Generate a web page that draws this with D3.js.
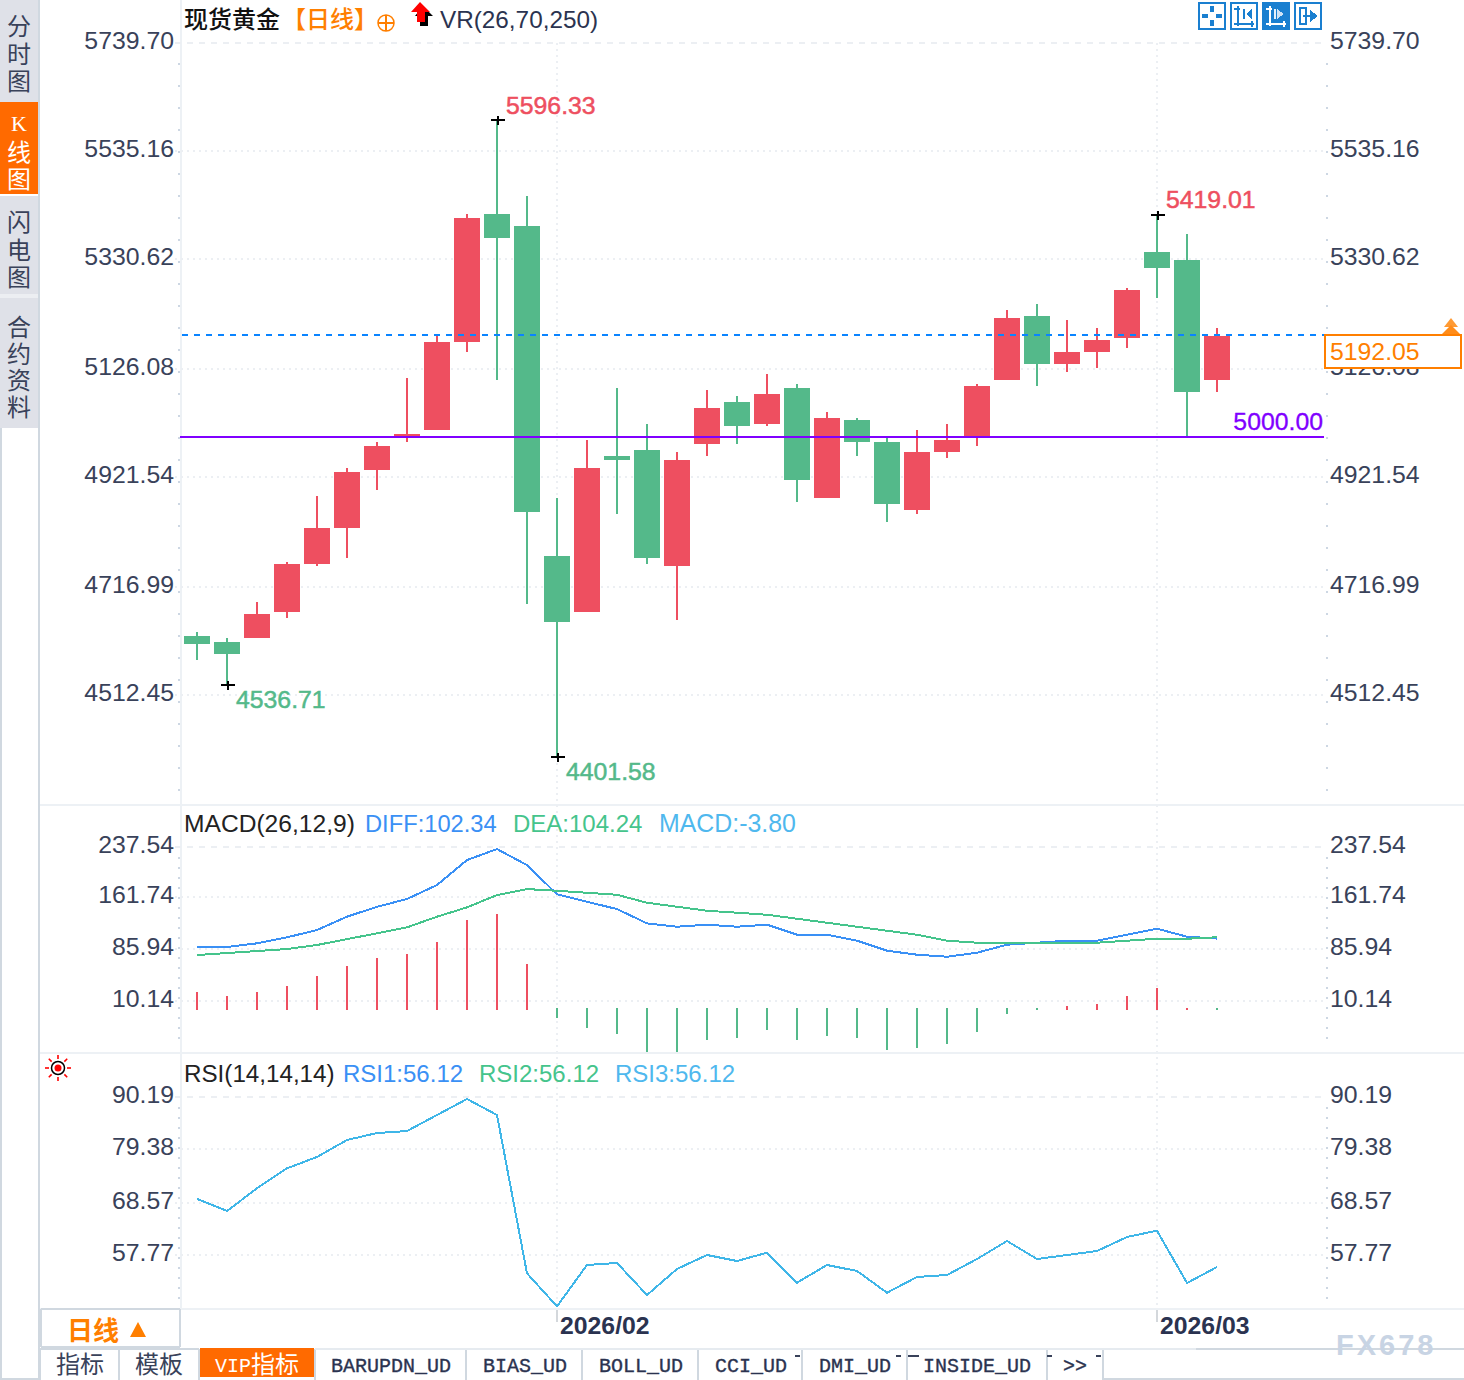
<!DOCTYPE html>
<html><head><meta charset="utf-8">
<script src="https://cdn.jsdelivr.net/npm/d3@7/dist/d3.min.js"></script>
<style>
html,body{margin:0;padding:0;background:#fff;overflow:hidden}
svg{display:block}
text{font-family:"Liberation Sans",Arial,sans-serif}
.cjk{font-family:"Noto Sans CJK SC",sans-serif}
.mono{font-family:"Liberation Mono",monospace}
.serif{font-family:"Liberation Serif",serif}
</style></head><body>
<svg id="c" width="1464" height="1380"></svg>
<script>
const opens =[4628.6,4617.3,4624.8,4673.6,4763.6,4831.1,4939.9,5000,5014.9,5180,5419.8,5397.5,4778.6,4673.6,4966.2,4977.4,4759.9,4988.7,5067.4,5026.2,5093.7,4887.4,5033.7,4992.4,4864.9,4973.7,5000,5108.7,5228.7,5138.7,5161.2,5187.5,5348.8,5333.8,5108.7];
const closes=[4613.6,4594.8,4669.8,4763.6,4831.1,4936.2,4984.9,5007.4,5180,5412.5,5375,4861.1,4654.8,4943.7,4958.7,4774.9,4958.7,5056.2,5022.4,5082.4,4921.1,5037.4,4992.4,4876.1,4973.7,4996.2,5097.4,5225,5138.7,5161.2,5183.7,5277.5,5318.8,5086.2,5192.05];
const highs =[4636.1,4624.8,4692.3,4767.3,4891.1,4943.7,4992.4,5112.5,5191.2,5419.8,5596.33,5453.8,4887.4,4996.2,5093.7,5026.2,4973.7,5089.9,5078.7,5120,5101.2,5048.7,5037.4,5001.8,5014.9,5026.2,5101.2,5240,5251.2,5221.2,5206.2,5281.2,5419.01,5382.5,5206.2];
const lows  =[4583.6,4536.71,4624.8,4662.3,4759.9,4774.9,4902.4,4992.4,5014.9,5161.2,5108.7,4688.6,4401.58,4673.6,4857.4,4763.6,4658.6,4966.2,4988.7,5022.4,4879.9,4887.4,4966.2,4842.4,4857.4,4962.4,4984.9,5108.7,5097.4,5123.7,5131.2,5168.7,5262.5,5001.8,5086.2];
const diff =[89.9,89.9,95.3,104.2,114.9,134.6,149.3,160.7,181.4,218.3,234.5,210.9,167.7,156.7,145.9,124.8,119.8,122.8,119.8,122.8,108,108,99.2,84.4,78.5,75.5,81.4,93.3,96.2,99.2,99.2,108,116.9,105.1,102.34];
const dea  =[78,81,83.9,86.9,92.8,101.6,110,118.9,134.6,148.4,166.6,175.4,172.9,170,167,155.2,149.3,143.4,140.5,137.5,131.6,125.7,119.8,113.9,108,99.2,96.2,96.2,96.2,96.2,96.2,99.2,102.1,102.1,104.24];
const macdBars=[23.6,17.7,23.6,32.5,47.2,62,73.8,79.7,97.4,129.9,138.8,65,-14.8,-29.5,-38.4,-65,-65,-47.2,-44.3,-32.5,-47.2,-41.3,-44.3,-62,-59,-53.1,-35.4,-8.9,-3,3,5.9,17.7,29.5,0.5,-3.8];
const rsi =[69.3,66.8,71.46,75.56,77.88,81.37,82.8,83.21,86.5,89.78,86.5,54.01,47.24,55.72,56.13,49.56,54.9,57.77,56.54,58.24,52.09,55.72,54.49,50.03,53.26,53.67,56.95,60.64,56.95,57.77,58.59,61.46,62.76,52.02,55.31];
const priceTicks=[5739.70,5535.16,5330.62,5126.08,4921.54,4716.99,4512.45];
const macdTicks=[237.54,161.74,85.94,10.14];
const rsiTicks=[90.19,79.38,68.57,57.77];
const monthIdx=[12,32];
const monthLabels=["2026/02","2026/03"];
const sideTabs=["分时图","K线图","闪电图","合约资料"];
const bottomTabs=["指标","模板","VIP指标","BARUPDN_UD","BIAS_UD","BOLL_UD","CCI_UD","DMI_UD","INSIDE_UD",">>"];

const UP="#ee4f60",DOWN="#54b98a",INK="#39425a",GRID="#eceff3",RULE="#edf1f5",EDGE="#d0d8e0",ORANGE="#ff7f00",TAB="#ff6a00",BLUE="#3a90f5",GREEN="#45c48c",SKY="#3fb6e8",PURPLE="#8000ff";
const L=180,R=1324;
const svg=d3.select("#c");
const x=d3.scaleLinear().domain([0,34]).range([197,1217]);
const yP=d3.scaleLinear().domain([5596.33,4401.58]).range([120,757]);
const yPT=d3.scaleLinear().domain(priceTicks).range([43,151,259,369,477,587,695]);
const yM=d3.scaleLinear().domain([10.14,237.54]).range([1001,847]);
const yMT=d3.scaleLinear().domain(macdTicks).range([847,897,949,1001]);
const yR=d3.scaleLinear().domain([57.77,90.19]).range([1255,1097]);
const yRT=d3.scaleLinear().domain(rsiTicks).range([1097,1149,1203,1255]);
const idx=d3.range(opens.length);
const txt=(s,px,py,o={})=>svg.append("text").attr("x",px).attr("y",py).text(s)
  .attr("font-size",o.size||25).attr("fill",o.fill||INK).attr("text-anchor",o.anchor||"start")
  .attr("font-weight",o.weight||null).attr("class",o.cls||null).attr("letter-spacing",o.ls||null)
  .attr("stroke",o.heavy?(o.fill||INK):null).attr("stroke-width",o.heavy||null);

const rule=(x1,y1,x2,y2,c,w=2)=>svg.append("line").attr("x1",x1).attr("y1",y1).attr("x2",x2).attr("y2",y2).attr("stroke",c).attr("stroke-width",w).attr("shape-rendering","crispEdges");
rule(181,0,181,1308,RULE);
[805,1053,1309].forEach(v=>rule(40,v,1464,v,RULE));

function axes(scale,ticks){
  const g=svg.append("g").attr("shape-rendering","crispEdges");
  ticks.forEach((t,i)=>g.append("line").attr("x1",175).attr("x2",R).attr("y1",scale(t)).attr("y2",scale(t))
    .attr("stroke",GRID).attr("stroke-width",2).attr("stroke-dasharray",i===0?"6 6":"2 4"));
  const fmt=d=>d.toFixed(2);
  const left=svg.append("g").attr("transform","translate(174,0)").call(d3.axisLeft(scale).tickValues(ticks).tickFormat(fmt).tickSize(0).tickPadding(0));
  const right=svg.append("g").attr("transform","translate(1330,0)").call(d3.axisRight(scale).tickValues(ticks).tickFormat(fmt).tickSize(0).tickPadding(0));
  [left,right].forEach(a=>{a.select(".domain").remove();
    a.selectAll("text").attr("font-size",24.8).attr("font-family",'"Liberation Sans",Arial,sans-serif').attr("fill",INK).attr("dy",".24em");});
}
axes(yPT,priceTicks);axes(yMT,macdTicks);axes(yRT,rsiTicks);

monthIdx.forEach(i=>{
  rule(x(i),43,x(i),1308,GRID,2).attr("stroke-dasharray","2 4");
  rule(x(i),1310,x(i),1322,"#d4d8dc",2);
});
[[63,790,22],[857,1045,10],[1107,1300,10]].forEach(([a,b,s])=>{
  d3.range(a,b,s).forEach(v=>{[178,1326].forEach(px=>svg.append("rect").attr("x",px).attr("y",v).attr("width",2).attr("height",2).attr("fill","#cdd7e3"));});
});

const cg=svg.append("g").attr("shape-rendering","crispEdges");
idx.forEach(i=>{
  const c=closes[i]>=opens[i]?UP:DOWN;
  cg.append("rect").attr("x",x(i)-1).attr("width",2).attr("y",yP(highs[i])).attr("height",yP(lows[i])-yP(highs[i])).attr("fill",c);
  const t=yP(Math.max(opens[i],closes[i])),b=yP(Math.min(opens[i],closes[i]));
  cg.append("rect").attr("x",x(i)-13).attr("width",26).attr("y",t).attr("height",b-t).attr("fill",c);
});
rule(L+2,yP(5192.05)-1,R,yP(5192.05)-1,"#0a84ff",2).attr("stroke-dasharray","6 6");
rule(L,yP(5000)-1,R,yP(5000)-1,PURPLE,2);
txt("5000.00",R-1,430,{anchor:"end",fill:PURPLE,size:24.8,heavy:0.3});
const ext=[[10,5596.33,"5596.33",UP,506,114],[32,5419.01,"5419.01",UP,1166,208],[1,4536.71,"4536.71",DOWN,236,708],[12,4401.58,"4401.58",DOWN,566,780]];
ext.forEach(([i,v,s,c,tx,ty])=>{
  const h=svg.append("g").attr("shape-rendering","crispEdges");
  h.append("rect").attr("x",x(i)-6).attr("y",yP(v)-1).attr("width",14).attr("height",2).attr("fill","#000");
  h.append("rect").attr("x",x(i)).attr("y",yP(v)-4).attr("width",2).attr("height",9).attr("fill","#000");
  txt(s,tx,ty,{fill:c,size:24.8,heavy:0.5});
});
svg.append("rect").attr("x",1325).attr("y",335).attr("width",136).attr("height",33).attr("fill","#fff").attr("stroke",ORANGE).attr("stroke-width",2);
txt("5192.05",1330,360,{fill:ORANGE,size:24.8});
svg.append("path").attr("d","M1451 318l7 9h-14z").attr("fill","#ff9a33");
svg.append("path").attr("d","M1451 325l9 9h-18z").attr("fill","#ff8c1a");

const gm=svg.append("g").attr("shape-rendering","crispEdges");
idx.forEach(i=>{
  const v=macdBars[i],pos=v>=0,y0=yM(0),yv=yM(v);
  gm.append("rect").attr("x",x(i)-1).attr("width",2).attr("y",pos?yv:y0).attr("height",Math.abs(yv-y0)+(pos?2:0)).attr("fill",pos?UP:DOWN);
});
const line=(ys,data,c,w)=>svg.append("path").attr("d",d3.line().x((d,i)=>x(i)).y(d=>ys(d))(data)).attr("fill","none").attr("stroke",c).attr("stroke-width",w).attr("shape-rendering","crispEdges");
line(yM,diff,BLUE,2);line(yM,dea,GREEN,2);
line(yR,rsi,SKY,2);
rule(40,1053,1464,1053,RULE);
rule(40,1309,1464,1309,RULE);

txt("现货黄金",184,28,{size:24,fill:"#111",cls:"cjk",weight:500});
txt("【日线】",282,28,{size:24,fill:ORANGE,cls:"cjk",weight:500});
svg.append("circle").attr("cx",386).attr("cy",23).attr("r",8).attr("fill","none").attr("stroke",ORANGE).attr("stroke-width",1.5);
rule(378,23,394,23,ORANGE,1.5);rule(386,15,386,31,ORANGE,1.5);
svg.append("path").attr("d","M421 5l10 10h-5v10h-8v-10h-5z").attr("fill","#000").attr("transform","translate(2,1)");
svg.append("path").attr("d","M420 2l10 10h-5v10h-8v-10h-6z").attr("fill","#f00");
txt("VR(26,70,250)",440,28,{fill:"#2b3350",size:24.3});
txt("MACD(26,12,9)",184,832,{fill:"#222",size:24.6});
txt("DIFF:102.34",365,832,{fill:BLUE,size:23.7});
txt("DEA:104.24",513,832,{fill:GREEN,size:24});
txt("MACD:-3.80",659,832,{fill:"#4fb8ee",size:24.9});
txt("RSI(14,14,14)",184,1082,{fill:"#222",size:24.2});
txt("RSI1:56.12",343,1082,{fill:BLUE,size:24});
txt("RSI2:56.12",479,1082,{fill:GREEN,size:24});
txt("RSI3:56.12",615,1082,{fill:"#4fb8ee",size:24});
const sun=svg.append("g").attr("transform","translate(58,1068)");
sun.append("circle").attr("r",6.5).attr("fill","none").attr("stroke","#000").attr("stroke-width",1.5);
sun.append("circle").attr("r",3.5).attr("fill","#f00");
d3.range(8).forEach(k=>{const a=k*Math.PI/4;sun.append("line").attr("x1",9*Math.cos(a)).attr("y1",9*Math.sin(a)).attr("x2",13*Math.cos(a)).attr("y2",13*Math.sin(a)).attr("stroke","#f00").attr("stroke-width",1.6);});

const TB="#1a7fd0";
[1198,1230,1262,1294].forEach((px,k)=>{
  const g=svg.append("g").attr("transform",`translate(${px},2)`).attr("shape-rendering","crispEdges");
  g.append("rect").attr("x",1).attr("y",1).attr("width",26).attr("height",26).attr("fill",k===2?TB:"#fff").attr("stroke",TB).attr("stroke-width",2);
  const fg=k===2?"#fff":TB;
  const r=(a,b,w,h,c=fg)=>g.append("rect").attr("x",a).attr("y",b).attr("width",w).attr("height",h).attr("fill",c);
  if(k===0){r(12,4,4,6);r(12,18,4,6);r(4,12,6,4);r(18,12,6,4);}
  if(k===1||k===2){r(7,4,2,20);r(4,21,20,2);r(4,6,6,2);r(21,19,2,6);
    if(k===1){r(13,7,2,10);g.append("path").attr("d","M22 7v10l-6-5z").attr("fill",fg);}
    else{r(12,7,2,10,"#e6f1fa");g.append("path").attr("d","M15 7v10l7-5z").attr("fill","#cfe3f5");}}
  if(k===3){r(5,5,8,18);r(7,7,4,14,"#fff");r(9,13,8,2);g.append("path").attr("d","M16 8v12l8-6z").attr("fill",fg);}
});

monthIdx.forEach((i,k)=>txt(monthLabels[k],x(i)+3,1334,{fill:"#2b3350",weight:"bold",size:24.8}));
const E=(a,b,c,d)=>rule(a,b,c,d,EDGE,2);

const sideBands=[[0,97],[102,194],[196,294],[298,428]];
sideBands.forEach(([a,b],k)=>{
  svg.append("rect").attr("x",0).attr("y",a).attr("width",38).attr("height",b-a).attr("fill",k===1?TAB:"#dfe1e8");
  const chars=Array.from(sideTabs[k]);
  chars.forEach((ch,j)=>{
    const isK=ch==="K";
    txt(ch,19,(k===3?336:a+(k===1?31:35))+j*(k===3?26.5:27.5)-(isK?2:0),{size:isK?22:24,fill:k===1?"#fff":"#39425a",anchor:"middle",cls:isK?"serif":"cjk"});
  });
});
svg.append("rect").attr("x",0).attr("y",97).attr("width",38).attr("height",5).attr("fill","#dfe1e8");
svg.append("rect").attr("x",0).attr("y",294).attr("width",38).attr("height",4).attr("fill","#eceef2");
E(39,0,39,1379);E(1,428,1,1379);E(0,1379,39,1379);
E(41,1309,180,1309);E(41,1309,41,1347);E(180,1309,180,1347);E(41,1347,180,1347);
txt("日线",67,1340,{size:26,fill:ORANGE,cls:"cjk",weight:700});
svg.append("path").attr("d","M138 1322l8 15h-16z").attr("fill",ORANGE);
const tabEdges=[40,119,199,315,466,582,698,802,907,1047,1103];
const tabTextX=[56,135,215,331,483,599,715,819,923,1063];
E(1196,1349,1464,1349);
E(1103,1379,1464,1379);
tabEdges.forEach(v=>E(v,1349,v,1380));
svg.append("rect").attr("x",tabEdges[2]+1).attr("y",1348).attr("width",tabEdges[3]-tabEdges[2]-2).attr("height",29).attr("fill",TAB);
E(40,1349,199,1349);E(315,1349,1196,1349).attr("stroke","#e6ebf0");
bottomTabs.forEach((s,k)=>{
  if(k<2) txt(s,tabTextX[k],1373,{size:24,fill:"#39425a",cls:"cjk"});
  else if(k===2){txt("VIP",215,1372,{size:20,fill:"#fff",cls:"mono"});txt("指标",251,1373,{size:24,fill:"#fff",cls:"cjk"});}
  else txt(s,tabTextX[k],1372,{size:20,fill:"#2b3350",cls:"mono",heavy:0.35});
});
[[795,800],[896,901],[908,919],[1047,1052],[1096,1101]].forEach(([a,b])=>rule(a,1356,b,1356,"#39425a",1.5));
txt("FX678",1336,1355,{size:29,fill:"#c8d4e4",weight:"bold",ls:3});
</script>
</body></html>
